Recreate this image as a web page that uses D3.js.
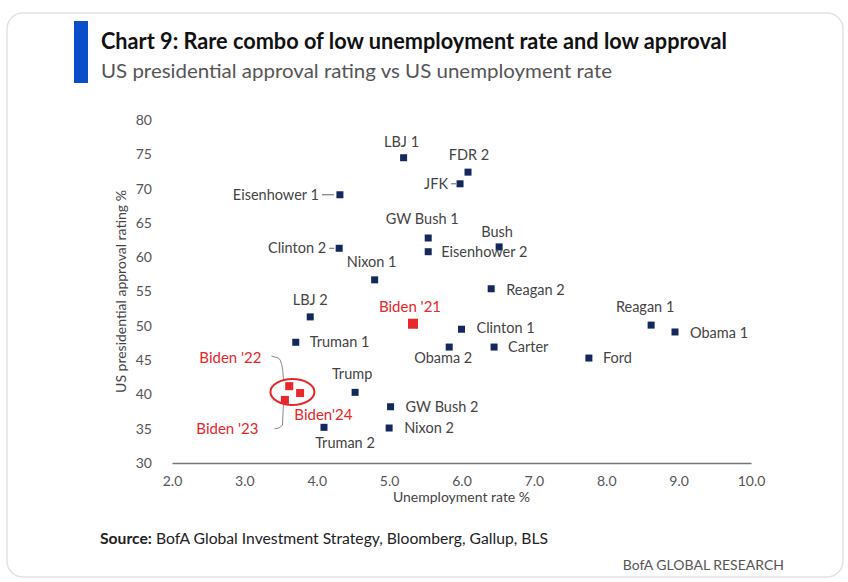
<!DOCTYPE html>
<html>
<head>
<meta charset="utf-8">
<script src="https://cdn.jsdelivr.net/npm/d3@7"></script>
<style>
  html, body { margin: 0; padding: 0; background: #fff; }
  svg { display: block; font-family: Lato, "Open Sans", sans-serif; }
</style>
</head>
<body>
<svg id="chart" width="848" height="582"></svg>
<script>
// ---------- DATA ----------
const presidents = ["LBJ 1", "FDR 2", "JFK", "Eisenhower 1", "GW Bush 1", "Bush", "Clinton 2",
  "Eisenhower 2", "Nixon 1", "Reagan 2", "LBJ 2", "Reagan 1", "Clinton 1", "Obama 1",
  "Truman 1", "Obama 2", "Carter", "Ford", "Trump", "GW Bush 2", "Truman 2", "Nixon 2"];
const unemployment = [5.20, 6.09, 5.98, 4.32, 5.54, 6.52, 4.31, 5.54, 4.80, 6.41, 3.91, 8.62,
  6.00, 8.95, 3.71, 5.83, 6.45, 7.76, 4.53, 5.02, 4.10, 5.00];
const approval = [74.5, 72.4, 70.7, 69.1, 62.8, 61.5, 61.3, 60.8, 56.7, 55.4, 51.3, 50.1,
  49.5, 49.1, 47.6, 46.9, 46.9, 45.3, 40.3, 38.2, 35.2, 35.1];

const bidenNames = ["Biden '21", "Biden '22", "Biden '23", "Biden'24"];
const bidenUnemployment = [5.33, 3.62, 3.56, 3.77];
const bidenApproval = [50.3, 41.2, 39.2, 40.2];

const xTicks = [2, 3, 4, 5, 6, 7, 8, 9, 10];
const yTicks = [30, 35, 40, 45, 50, 55, 60, 65, 70, 75, 80];

const title = "Chart 9: Rare combo of low unemployment rate and low approval";
const subtitle = "US presidential approval rating vs US unemployment rate";
const xTitle = "Unemployment rate %";
const yTitle = "US presidential approval rating %";

// ---------- LABEL LAYOUT (offsets from marker, px) ----------
const labelLayout = {
  "LBJ 1": {a: "middle", dx: -2, dy: -11},
  "FDR 2": {a: "middle", dx: 1, dy: -12},
  "JFK": {a: "end", dx: -12, dy: 5, lead: [-9, -4]},
  "Eisenhower 1": {a: "end", dx: -21, dy: 5, lead: [-18, -6]},
  "GW Bush 1": {a: "middle", dx: -6, dy: -14},
  "Bush": {a: "middle", dx: -2, dy: -10},
  "Clinton 2": {a: "end", dx: -13, dy: 5, lead: [-10, -5]},
  "Eisenhower 2": {a: "start", dx: 13, dy: 5},
  "Nixon 1": {a: "middle", dx: -3, dy: -13},
  "Reagan 2": {a: "start", dx: 15, dy: 6},
  "LBJ 2": {a: "middle", dx: 0, dy: -12},
  "Reagan 1": {a: "middle", dx: -6, dy: -13},
  "Clinton 1": {a: "start", dx: 15, dy: 4},
  "Obama 1": {a: "start", dx: 15, dy: 6},
  "Truman 1": {a: "start", dx: 14, dy: 5},
  "Obama 2": {a: "middle", dx: -6, dy: 16},
  "Carter": {a: "start", dx: 14, dy: 5},
  "Ford": {a: "start", dx: 14, dy: 5},
  "Trump": {a: "middle", dx: -3, dy: -13},
  "GW Bush 2": {a: "start", dx: 15, dy: 5},
  "Truman 2": {a: "middle", dx: 21, dy: 21},
  "Nixon 2": {a: "start", dx: 15, dy: 5}
};

// ---------- SETUP ----------
const svg = d3.select("#chart");
const navy = "#14285c";
const red = "#e8262b";
const labelGray = "#444";
const labelSize = 14.5;

svg.append("rect").attr("x", 7).attr("y", 13).attr("width", 836).attr("height", 564)
  .attr("rx", 16).attr("fill", "#fff").attr("stroke", "#e2e2e2").attr("stroke-width", 1.5);

svg.append("rect").attr("x", 74).attr("y", 21).attr("width", 14).attr("height", 62).attr("fill", "#0a4fc9");

svg.append("text").attr("x", 101).attr("y", 49)
  .attr("font-size", 22).attr("font-weight", 700).attr("fill", "#111")
  .attr("textLength", 626).attr("lengthAdjust", "spacingAndGlyphs").text(title);
svg.append("text").attr("x", 101).attr("y", 78)
  .attr("font-size", 19).attr("fill", "#555")
  .attr("textLength", 511).attr("lengthAdjust", "spacingAndGlyphs").text(subtitle);

const x = d3.scaleLinear().domain([2, 10]).range([172, 751]);
const y = d3.scaleLinear().domain([30, 80]).range([463, 120]);

// X axis
const gx = svg.append("g").attr("transform", `translate(0,${y(30)})`)
  .call(d3.axisBottom(x).tickValues(xTicks).tickSize(0).tickPadding(13).tickFormat(d3.format(".1f")));
gx.select(".domain").attr("stroke", "#777").attr("stroke-width", 1.6);
gx.selectAll("text").attr("font-size", 14).attr("fill", "#555").attr("font-family", "Lato, sans-serif");

// Y axis
const gy = svg.append("g").attr("transform", `translate(${x(2)},0)`)
  .call(d3.axisLeft(y).tickValues(yTicks).tickSize(0).tickPadding(20));
gy.select(".domain").remove();
gy.selectAll("text").attr("font-size", 14).attr("fill", "#555").attr("font-family", "Lato, sans-serif");

svg.append("text").attr("x", (x(2) + x(10)) / 2).attr("y", 502).attr("text-anchor", "middle")
  .attr("font-size", 14).attr("fill", "#444").text(xTitle);
svg.append("text").attr("transform", `translate(126,${(y(30) + y(80)) / 2}) rotate(-90)`)
  .attr("text-anchor", "middle").attr("font-size", 14).attr("fill", "#444").text(yTitle);

// ---------- PRESIDENT POINTS ----------
const pts = presidents.map((n, i) => ({name: n, u: unemployment[i], a: approval[i]}));
const gp = svg.append("g");
pts.forEach(d => {
  const cx = x(d.u), cy = y(d.a), L = labelLayout[d.name];
  if (L.lead) {
    gp.append("line").attr("x1", cx + L.lead[0]).attr("x2", cx + L.lead[1])
      .attr("y1", cy).attr("y2", cy).attr("stroke", "#666").attr("stroke-width", 1);
  }
  gp.append("rect").attr("x", cx - 3.5).attr("y", cy - 3.5).attr("width", 7).attr("height", 7)
    .attr("fill", navy);
  gp.append("text").attr("x", cx + L.dx).attr("y", cy + L.dy).attr("text-anchor", L.a)
    .attr("font-size", labelSize).attr("fill", labelGray).text(d.name);
});

// ---------- BIDEN POINTS ----------
const bpts = bidenNames.map((n, i) => ({name: n, u: bidenUnemployment[i], a: bidenApproval[i]}));
const gb = svg.append("g");
const redLabel = (xx, yy, t) => gb.append("text").attr("x", xx).attr("y", yy).attr("text-anchor", "middle")
  .attr("font-size", 15).attr("font-weight", 400).attr("fill", red).text(t);
// Biden '21
{
  const d = bpts[0], cx = x(d.u), cy = y(d.a);
  gb.append("rect").attr("x", cx - 5).attr("y", cy - 5).attr("width", 10).attr("height", 10).attr("fill", red);
  redLabel(cx - 3, cy - 12, d.name);
}
// Cluster '22-'24
const cl = bpts.slice(1);
const ccx = d3.mean(cl, d => x(d.u)) + 1;
const ccy = d3.mean(cl, d => y(d.a)) - 1;
gb.append("ellipse").attr("cx", ccx).attr("cy", ccy).attr("rx", 22).attr("ry", 13)
  .attr("fill", "none").attr("stroke", red).attr("stroke-width", 2);
cl.forEach(d => {
  gb.append("rect").attr("x", x(d.u) - 4).attr("y", y(d.a) - 4).attr("width", 8).attr("height", 8).attr("fill", red);
});
// leaders
gb.append("path").attr("d", `M${ccx - 21},${ccy - 36} L${ccx - 14},${ccy - 34} Q${ccx - 10},${ccy - 32} ${ccx - 9},${ccy - 13}`)
  .attr("fill", "none").attr("stroke", "#888").attr("stroke-width", 1);
gb.append("path").attr("d", `M${ccx - 9},${ccy + 13} L${ccx - 10},${ccy + 33} Q${ccx - 11},${ccy + 36} ${ccx - 18},${ccy + 37}`)
  .attr("fill", "none").attr("stroke", "#888").attr("stroke-width", 1);
redLabel(ccx - 62, ccy - 29, cl[0].name);
redLabel(ccx - 65, ccy + 42, cl[1].name);
redLabel(ccx + 31, ccy + 28, cl[2].name);

// ---------- FOOTER ----------
const src = svg.append("text").attr("x", 100).attr("y", 544).attr("font-size", 14.5).attr("fill", "#222")
  .attr("textLength", 448).attr("lengthAdjust", "spacingAndGlyphs");
src.append("tspan").attr("font-weight", 700).text("Source:");
src.append("tspan").text(" BofA Global Investment Strategy, Bloomberg, Gallup, BLS");
svg.append("text").attr("x", 784).attr("y", 570).attr("text-anchor", "end")
  .attr("font-size", 14).attr("fill", "#555").text("BofA GLOBAL RESEARCH");
</script>
</body>
</html>
